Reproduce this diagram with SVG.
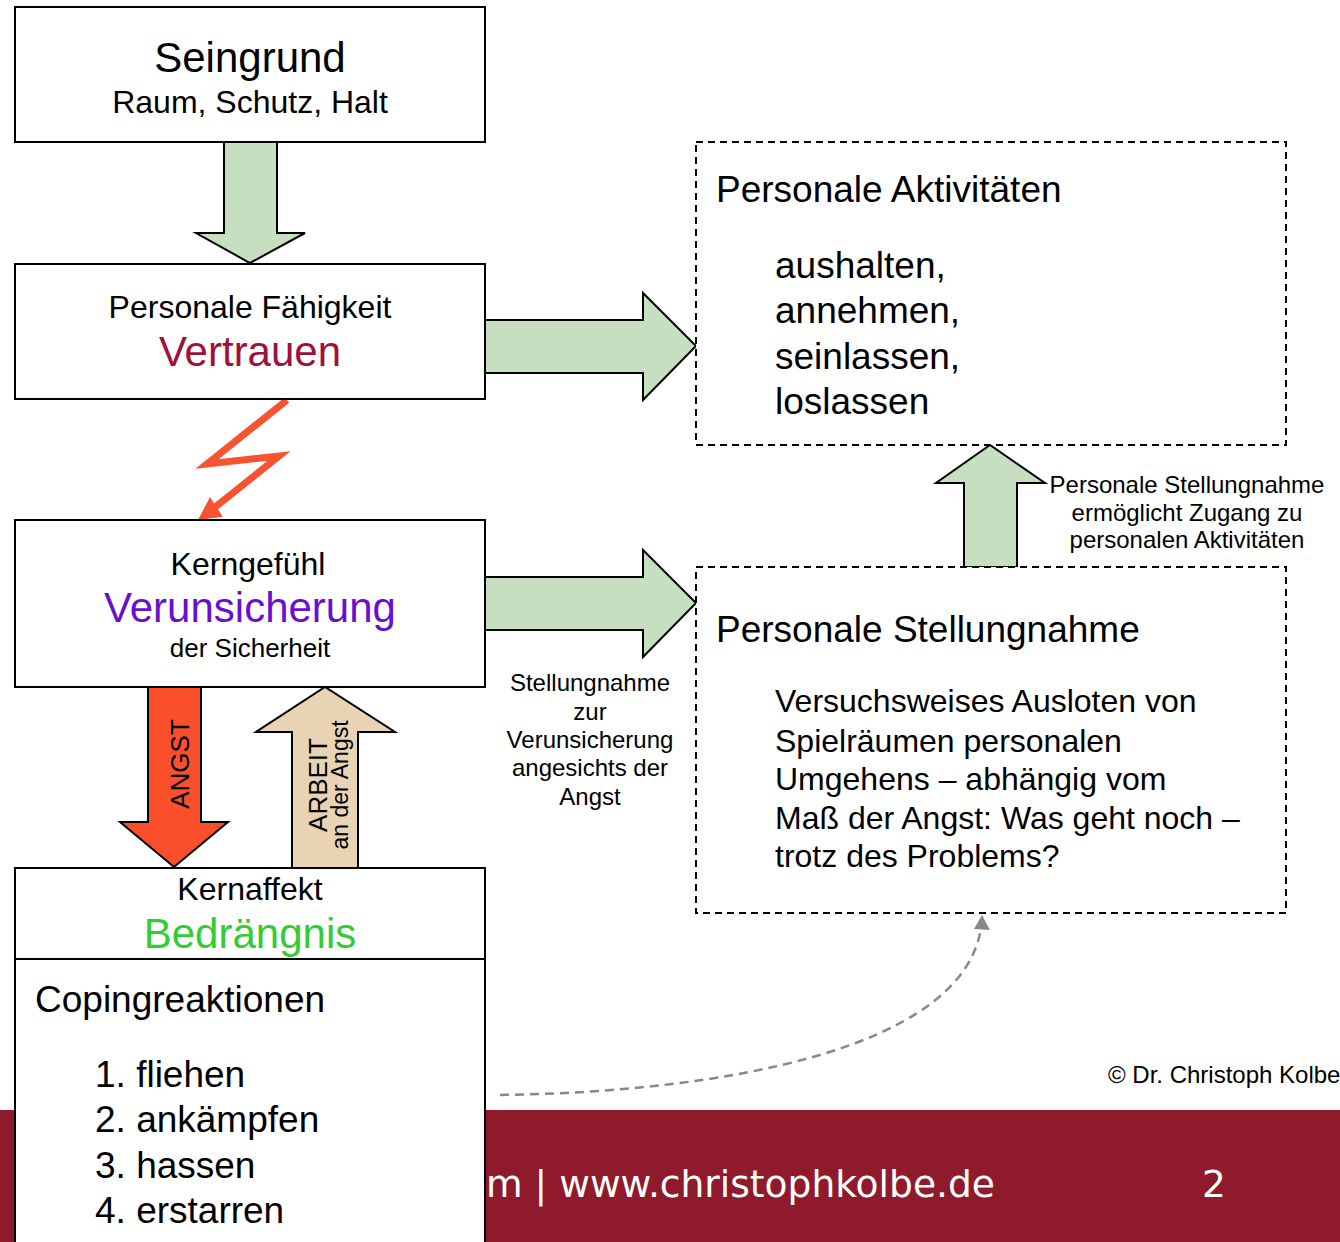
<svg xmlns="http://www.w3.org/2000/svg" width="1340" height="1242" viewBox="0 0 1340 1242">
<style>
  text { font-family: "Liberation Sans", Arial, sans-serif; fill: #000; }
  .box { fill: #fff; stroke: #000; stroke-width: 2; }
  .dbox { fill: #fff; stroke: #000; stroke-width: 2; stroke-dasharray: 7 5; }
  .green { fill: #c6dfc0; stroke: #000; stroke-width: 2; stroke-linejoin: miter; }
  .c { text-anchor: middle; }
  .footer { font-family: "DejaVu Sans", Verdana, sans-serif; fill: #fff; font-size: 37.6px; }
</style>
<rect x="0" y="0" width="1340" height="1242" fill="#fff"/>
<rect id="footer-band" x="0" y="1110" width="1340" height="132" fill="#8f1a2b"/>
<text class="footer" x="486" y="1197">m | www.christophkolbe.de</text>
<text class="footer" x="1202" y="1197">2</text>
<text x="1108" y="1083" font-size="24">© Dr. Christoph Kolbe</text>

<g id="connectors">
  <polygon class="green" points="224,142 277,142 277,233 305,233 250,263 196,233 224,233"/>
  <polygon class="green" points="485,320 643,320 643,293 696,346 643,400 643,373 485,373"/>
  <polygon class="green" points="485,577 643,577 643,550 696,603 643,657 643,630 485,630"/>
  <polygon class="green" points="964,567 964,483 936,483 990,445 1045,483 1017,483 1017,567"/>
  <polyline points="287,400 207,464 279,456 214,508" fill="none" stroke="#f95230" stroke-width="7" stroke-linejoin="miter"/>
  <polygon points="198,520 210,497 222.7,516.7" fill="#f95230"/>
  <g id="angst-arrow">
    <polygon points="148,687 201,687 201,822 228,822 174,867 120,822 148,822" fill="#f94f2b" stroke="#000" stroke-width="2"/>
    <text transform="translate(189,764) rotate(-90)" class="c" font-size="26">ANGST</text>
  </g>
  <g id="arbeit-arrow">
    <polygon points="292,868 292,732 256,732 325,687 395,732 358,732 358,868" fill="#e8d3b4" stroke="#000" stroke-width="2"/>
    <text transform="translate(327,785) rotate(-90)" class="c" font-size="26">ARBEIT</text>
    <text transform="translate(348,785) rotate(-90)" class="c" font-size="23">an der Angst</text>
  </g>
  <path d="M500,1095 C720,1092 962,1050 981,928" fill="none" stroke="#888" stroke-width="2.5" stroke-dasharray="9 6"/>
  <polygon points="982,915 974,929 990,930" fill="#888"/>
</g>

<g id="seingrund">
  <rect class="box" x="15" y="7" width="470" height="135"/>
  <text x="250" y="72" class="c" font-size="42">Seingrund</text>
  <text x="250" y="113" class="c" font-size="32">Raum, Schutz, Halt</text>
</g>

<g id="faehigkeit">
  <rect class="box" x="15" y="264" width="470" height="135"/>
  <text x="250" y="318" class="c" font-size="32">Personale Fähigkeit</text>
  <text x="250" y="366" class="c" font-size="42" style="fill:#a0103a">Vertrauen</text>
</g>

<g id="kerngefuehl">
  <rect class="box" x="15" y="520" width="470" height="167"/>
  <text x="248" y="575" class="c" font-size="32">Kerngefühl</text>
  <text x="250" y="622" class="c" font-size="42" style="fill:#6a0fd0">Verunsicherung</text>
  <text x="250" y="657" class="c" font-size="26">der Sicherheit</text>
</g>

<g id="kernaffekt">
  <rect class="box" x="15" y="868" width="470" height="380"/>
  <line x1="15" y1="959" x2="485" y2="959" stroke="#000" stroke-width="2"/>
  <text x="250" y="900" class="c" font-size="32">Kernaffekt</text>
  <text x="250" y="948" class="c" font-size="42" style="fill:#33cc33">Bedrängnis</text>
  <text x="35" y="1012" font-size="37">Copingreaktionen</text>
  <text x="95" y="1087" font-size="37">1. fliehen</text>
  <text x="95" y="1132" font-size="37">2. ankämpfen</text>
  <text x="95" y="1178" font-size="37">3. hassen</text>
  <text x="95" y="1223" font-size="37">4. erstarren</text>
</g>

<g id="aktivitaeten">
  <rect class="dbox" x="696" y="142" width="590" height="303"/>
  <text x="716" y="202" font-size="37">Personale Aktivitäten</text>
  <text x="775" y="278" font-size="37">aushalten,</text>
  <text x="775" y="323" font-size="37">annehmen,</text>
  <text x="775" y="369" font-size="37">seinlassen,</text>
  <text x="775" y="414" font-size="37">loslassen</text>
</g>

<g id="stellungnahme">
  <rect class="dbox" x="696" y="567" width="590" height="346"/>
  <text x="716" y="642" font-size="37">Personale Stellungnahme</text>
  <text x="775" y="712" font-size="32">Versuchsweises Ausloten von</text>
  <text x="775" y="752" font-size="32">Spielräumen personalen</text>
  <text x="775" y="790" font-size="32">Umgehens – abhängig vom</text>
  <text x="775" y="829" font-size="32">Maß der Angst: Was geht noch –</text>
  <text x="775" y="867" font-size="32">trotz des Problems?</text>
</g>

<g id="label-zugang">
  <text x="1187" y="493" class="c" font-size="24">Personale Stellungnahme</text>
  <text x="1187" y="521" class="c" font-size="24">ermöglicht Zugang zu</text>
  <text x="1187" y="548" class="c" font-size="24">personalen Aktivitäten</text>
</g>

<g id="label-stellungnahme">
  <text x="590" y="691" class="c" font-size="24">Stellungnahme</text>
  <text x="590" y="720" class="c" font-size="24">zur</text>
  <text x="590" y="748" class="c" font-size="24">Verunsicherung</text>
  <text x="590" y="776" class="c" font-size="24">angesichts der</text>
  <text x="590" y="805" class="c" font-size="24">Angst</text>
</g>
</svg>
